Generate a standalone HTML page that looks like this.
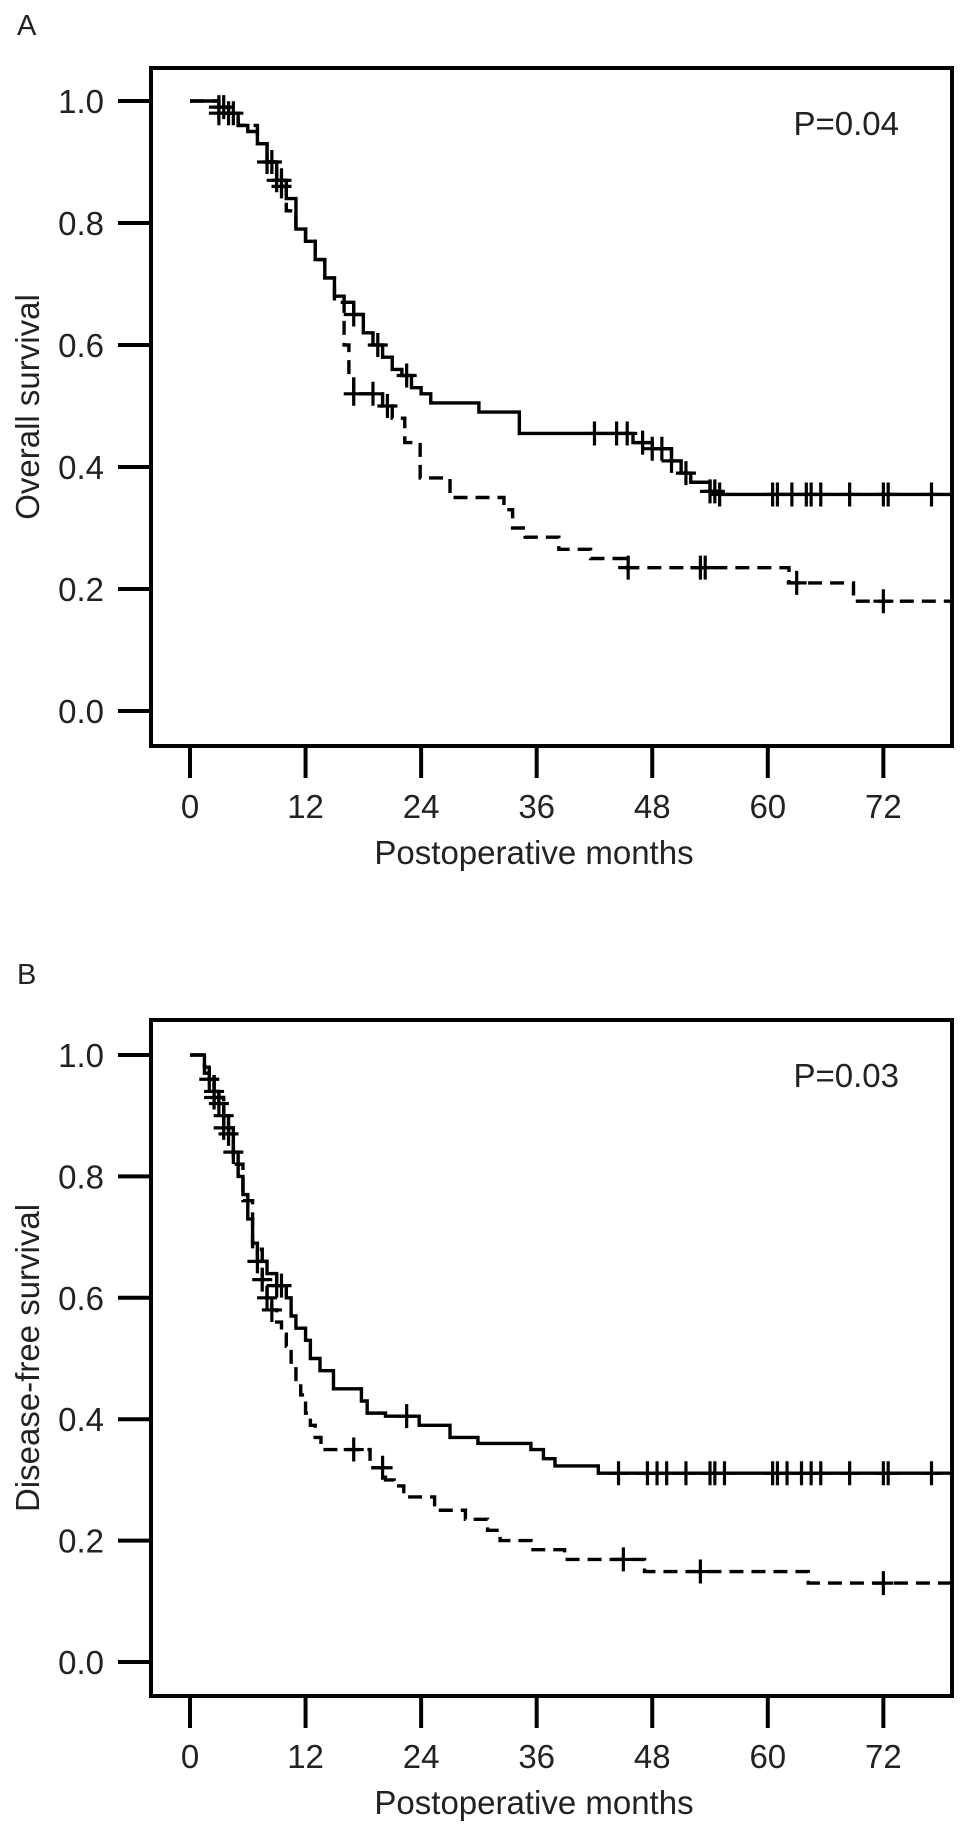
<!DOCTYPE html>
<html><head><meta charset="utf-8">
<style>
body{margin:0;background:#fff;}
svg{display:block;font-family:"Liberation Sans",Arial,sans-serif;}
</style></head>
<body>
<svg id="chart" width="969" height="1834" viewBox="0 0 969 1834" xmlns="http://www.w3.org/2000/svg"></svg>
<script>
// ---- data (months, survival) ----
const xTicks = [0,12,24,36,48,60,72];
const yTicks = [0.0,0.2,0.4,0.6,0.8,1.0];
const yTickLabels = ["0.0","0.2","0.4","0.6","0.8","1.0"];

const osSolidT = [0,3,4,5,6,7,8,9,10,11,12,13,14,15,16,17,18,19,20,21,22,23,24,25,30,34.2,46,48,50,51,52,54,55];
const osSolidS = [1.0,0.99,0.98,0.96,0.95,0.93,0.90,0.87,0.84,0.79,0.77,0.74,0.71,0.68,0.67,0.65,0.62,0.60,0.58,0.56,0.55,0.53,0.52,0.505,0.49,0.455,0.44,0.43,0.41,0.39,0.375,0.36,0.355];
const osSolidCens = [3,3.5,4,4.5,8.5,9,9.5,17,19.5,22.5,42,44.3,45.4,47,48,49,50,51.5,54,54.5,55,60.5,61,62.5,64,64.5,65.5,68.5,72,72.5,77];
const osDashT = [0,3,5,7,8,9,10,11,12,13,14,15,16,16.5,17,20,21,22.3,23.9,27,32.6,33.5,34.8,38.3,41.6,45.4,62.2,68.9];
const osDashS = [1.0,0.98,0.96,0.93,0.90,0.86,0.82,0.79,0.77,0.74,0.71,0.67,0.60,0.55,0.52,0.50,0.48,0.44,0.382,0.35,0.33,0.30,0.285,0.265,0.25,0.235,0.21,0.18];
const osDashCens = [3,8,9.5,17,19,20.5,45.5,53,53.5,63,72];

const dfsSolidT = [0,1.5,2,2.5,3,3.5,4,4.5,5,5.5,6,6.5,7,8,9,10,10.5,11,12,12.5,13.5,14.9,17.8,18.4,20.3,23.8,27,29.9,35.4,36.7,37.9,42.4];
const dfsSolidS = [1.0,0.98,0.96,0.94,0.92,0.90,0.87,0.84,0.80,0.77,0.73,0.69,0.66,0.64,0.62,0.60,0.57,0.55,0.53,0.50,0.48,0.45,0.43,0.41,0.405,0.39,0.37,0.36,0.35,0.335,0.323,0.311];
const dfsSolidCens = [2,2.5,3,3.5,4,4.5,7,9,9.5,22.5,44.5,47.5,48.5,49.5,51.5,54,54.5,55.5,60.5,61,62,63.5,64.5,65.5,68.5,72,72.5,77];
const dfsDashT = [0,1.5,2.5,3.5,4.5,5.5,6.5,7.5,8,8.5,9,9.5,10,10.5,11,11.5,12,12.5,13,13.6,18.7,20.3,21.2,22.2,25.4,28.6,30.9,32.2,35.4,38.9,47.2,64.2];
const dfsDashS = [1.0,0.97,0.93,0.88,0.82,0.76,0.68,0.63,0.60,0.58,0.56,0.54,0.52,0.49,0.46,0.44,0.41,0.39,0.37,0.35,0.32,0.30,0.29,0.272,0.25,0.235,0.217,0.20,0.185,0.169,0.149,0.13];
const dfsDashCens = [2.5,3.5,7.5,8,8.5,17,20,45,53,72];

const NS="http://www.w3.org/2000/svg";
const svg=document.getElementById('chart');
function mk(tag,attrs,parent,text){
  const e=document.createElementNS(NS,tag);
  for(const k in attrs)e.setAttribute(k,attrs[k]);
  if(text!==undefined)e.textContent=text;
  (parent||svg).appendChild(e);return e;
}
function stepAt(T,S,t){let v=S[0];for(let i=0;i<T.length;i++){if(T[i]<=t)v=S[i];}return v;}

function panel(cfg){
  const g=mk('g',{});
  
  
  const X0=190, PXM=9.63, L=151, R=952;
  const x=m=>X0+m*PXM;
  const y=s=>cfg.y0-s*(cfg.y0-cfg.y1);
  const box=mk('rect',{x:L,y:cfg.top,width:R-L,height:cfg.bottom-cfg.top,fill:'none',stroke:'#000','stroke-width':4},g);
  
  
  yTicks.forEach((v,i)=>{
    const t=mk('line',{x1:118,x2:L,y1:y(v),y2:y(v),stroke:'#000','stroke-width':4},g);
    
    
    const l=mk('text',{x:104,y:y(v)+12,'text-anchor':'end','font-size':33,fill:'#222'},g,yTickLabels[i]);
    
    
  });
  xTicks.forEach(v=>{
    const t=mk('line',{x1:x(v),x2:x(v),y1:cfg.bottom,y2:cfg.bottom+32,stroke:'#000','stroke-width':4},g);
    
    
    const l=mk('text',{x:x(v),y:cfg.bottom+72,'text-anchor':'middle','font-size':33,fill:'#222'},g,String(v));
    
    
  });
  const xt=mk('text',{x:534,y:cfg.bottom+118,'text-anchor':'middle','font-size':33,fill:'#222'},g,'Postoperative months');
  
  
  const cy=(cfg.top+cfg.bottom)/2;
  const yt=mk('text',{x:0,y:0,'text-anchor':'middle','font-size':33,fill:'#222',transform:`translate(39,${cy}) rotate(-90)`},g,cfg.ylabel);
  
  
  const lt=mk('text',{x:17,y:cfg.letterY,'font-size':29,fill:'#222'},g,cfg.letter);
  
  
  const pv=mk('text',{x:899,y:cfg.top+67,'text-anchor':'end','font-size':33,fill:'#222'},g,cfg.p);
  
  
  function curve(T,S,C,dash,nm){
    let d=`M${x(T[0])},${y(S[0])}`;
    for(let i=1;i<T.length;i++){d+=` H${x(T[i])} V${y(S[i])}`;}
    d+=` H${R-2}`;
    const p=mk('path',{d:d,fill:'none',stroke:'#000','stroke-width':3.4,'stroke-dasharray':dash?'14,8':'none'},g);
    
    
    C.forEach(c=>{
      const s=stepAt(T,S,c);
      const cx=x(c),yy=y(s);
      const m=mk('path',{d:`M${cx-10},${yy} H${cx+10} M${cx},${yy-12} V${yy+12}`,stroke:'#000','stroke-width':3.2,fill:'none'},g);
      
      
    });
  }
  curve(cfg.sT,cfg.sS,cfg.sC,false,'high-group');
  curve(cfg.dT,cfg.dS,cfg.dC,true,'low-group');
}
panel({name:'panel-a-overall-survival',top:68,bottom:746,y1:101,y0:711,letterY:35,ylabel:'Overall survival',letter:'A',p:'P=0.04',
  sT:osSolidT,sS:osSolidS,sC:osSolidCens,dT:osDashT,dS:osDashS,dC:osDashCens});
panel({name:'panel-b-disease-free-survival',top:1020,bottom:1696,y1:1055,y0:1662,letterY:984,ylabel:'Disease-free survival',letter:'B',p:'P=0.03',
  sT:dfsSolidT,sS:dfsSolidS,sC:dfsSolidCens,dT:dfsDashT,dS:dfsDashS,dC:dfsDashCens});
</script>
</body></html>
